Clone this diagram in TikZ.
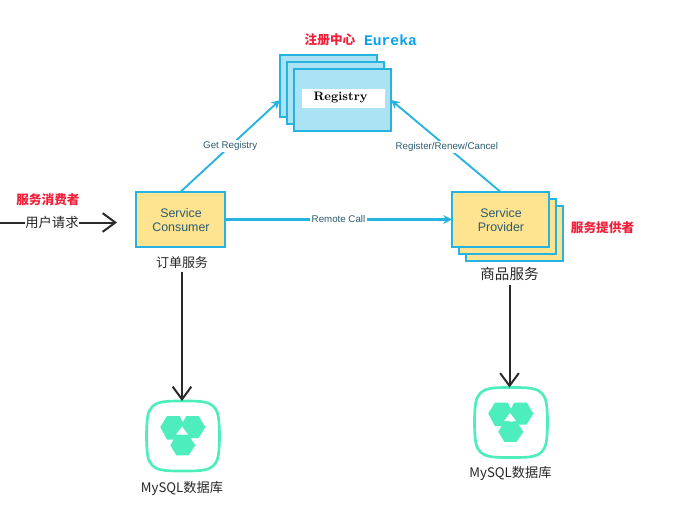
\documentclass[tikz,border=0pt]{standalone}
\usepackage{fontspec}
\usetikzlibrary{arrows.meta}
\setmainfont{Liberation Sans}
\newfontfamily\cjk{Noto Sans CJK SC}
\newfontfamily\monob{Liberation Mono}
\newfontfamily\lmr{Latin Modern Roman}
\definecolor{edgeblue}{HTML}{25B4E2}
\definecolor{regfill}{HTML}{ABE3F5}
\definecolor{svcfill}{HTML}{FEE391}
\definecolor{svctext}{HTML}{2C5A6E}
\definecolor{redtext}{HTML}{F0203A}
\definecolor{eurekablue}{HTML}{0AA0E8}
\definecolor{dbgreen}{HTML}{4DEDBE}
\definecolor{blackline}{HTML}{2A2A2A}
\tikzset{
  x=0.75pt,y=-0.75pt,
  regbox/.style={draw=edgeblue,fill=regfill,line width=1.5pt,minimum width=72.75pt,minimum height=46.5pt,outer sep=0pt,inner sep=0pt},
  svcbox/.style={draw=edgeblue,fill=svcfill,line width=1.4pt,minimum width=72.75pt,minimum height=41.5pt,outer sep=0pt,inner sep=0pt},
  svclabel/.style={text=svctext,align=center,font=\fontsize{9.3}{10.5}\selectfont},
  link/.style={draw=edgeblue,line width=1.4pt,-{Stealth[length=6.5pt,width=6.5pt]}},
  linklabel/.style={fill=white,text=svctext,inner sep=1pt,font=\fontsize{7.3}{9}\selectfont},
  flow/.style={draw=blackline,line width=1.5pt,-{Straight Barb[length=9.5pt,width=14pt]}},
  plainflow/.style={draw=blackline,line width=1.5pt},
  zh/.style={text=black!85,inner sep=0pt,font=\cjk\fontsize{#1}{#1}\selectfont},
  redzh/.style={text=redtext,inner sep=0pt,font=\cjk\bfseries\fontsize{9.5}{10}\selectfont},
  dbframe/.style={minimum width=54pt,minimum height=52.5pt,inner sep=0pt,outer sep=0pt}
}
\newcommand{\dbicon}[2]{%
  \node[dbframe,anchor=north west] (#1) at #2 {};
  \begin{scope}[shift={#2}]
    \draw[dbgreen,line width=2pt]
      (36,0) .. controls (60,0) and (71,0) .. (72,22)
      .. controls (72.7,30) and (72.7,40) .. (72,48)
      .. controls (71,70) and (60,70) .. (36,70)
      .. controls (12,70) and (1,70) .. (0,48)
      .. controls (-0.7,40) and (-0.7,30) .. (0,22)
      .. controls (1,0) and (12,0) .. (36,0) -- cycle;
    \fill[dbgreen] (13.3,26) -- (20,15) -- (32.7,15) -- (38.3,26) -- (32.7,38.7) -- (20,38.7) -- cycle;
    \fill[dbgreen] (33.3,26) -- (39.3,15) -- (51.7,15) -- (58.3,26) -- (51.7,37) -- (39.3,37) -- cycle;
    \fill[dbgreen] (23.3,44.3) -- (29.3,34) -- (41.7,34) -- (48.3,44.3) -- (41.7,54.3) -- (29.3,54.3) -- cycle;
    \fill[white] (35,25.5) -- (41,33.5) -- (29.2,33.5) -- cycle;
  \end{scope}
}
\begin{document}
\begin{tikzpicture}
\useasboundingbox (0,0) rectangle (676,518);
% registry
\node[regbox] (regA) at (328.5,86) {};
\node[regbox] (regB) at (335.5,93) {};
\node[regbox] (regC) at (342.5,100) {};
\node[fill=white,minimum width=62pt,minimum height=14.25pt,inner sep=0pt,text=black] (regT) at (343.5,98) {};
\node[inner sep=0pt,font=\lmr\bfseries\fontsize{9.2}{10}\selectfont,text=black] (regTxt) at (340.5,97.5) {Registry};
\node[redzh,anchor=center] (regCn) at (330,39.5) {注册中心};
\node[text=eurekablue,inner sep=0pt,font=\monob\bfseries\fontsize{11}{12}\selectfont] (eureka) at (390.5,40.5) {Eureka};
% consumer
\node[svcbox,minimum width=66.75pt] (cons) at (180.5,219.5) {};
\node[svclabel] (consT) at (181,220.5) {Service\\Consumer};
\node[zh=9.75] (order) at (182,263) {订单服务};
\node[redzh] (userCn) at (48,199.5) {服务消费者};
\node[zh=10] (req) at (52,222.5) {用户请求};
\coordinate (reqStart) at (0,222.5);
\coordinate (reqEnd) at (117,222.5);
% provider
\node[svcbox] (provC) at (514.5,233.5) {};
\node[svcbox] (provB) at (507.5,226.5) {};
\node[svcbox] (prov) at (500.5,219.5) {};
\node[svclabel] (provT) at (501,220.5) {Service\\Provider};
\node[redzh] (provCn) at (602.5,227.5) {服务提供者};
\node[zh=10.9] (goods) at (509.5,274) {商品服务};
% databases
\dbicon{dbL}{(147,401)}
\dbicon{dbR}{(475,387.5)}
\node[zh=9.9] (dbLT) at (182,488) {MySQL数据库};
\node[zh=9.9] (dbRT) at (510.5,473.5) {MySQL数据库};
% connectors
\draw[link] (cons.north) -- node[linklabel,pos=0.5] {Get Registry} (regA.west |- regC.east);
\draw[link] (prov.north) -- node[linklabel,pos=0.49] {Register/Renew/Cancel} (regC.east);
\draw[link,line width=1.9pt] (cons.east) -- node[linklabel,pos=0.5] {Remote Call} (prov.west);
\draw[plainflow] (reqStart) -- (req.west);
\draw[flow] (req.east) -- (reqEnd);
\draw[flow] ([yshift=-2pt]order.south) -- (order.south |- dbL.north);
\draw[flow] ([yshift=-3pt]goods.south) -- (goods.south |- dbR.north);
\end{tikzpicture}
\end{document}
